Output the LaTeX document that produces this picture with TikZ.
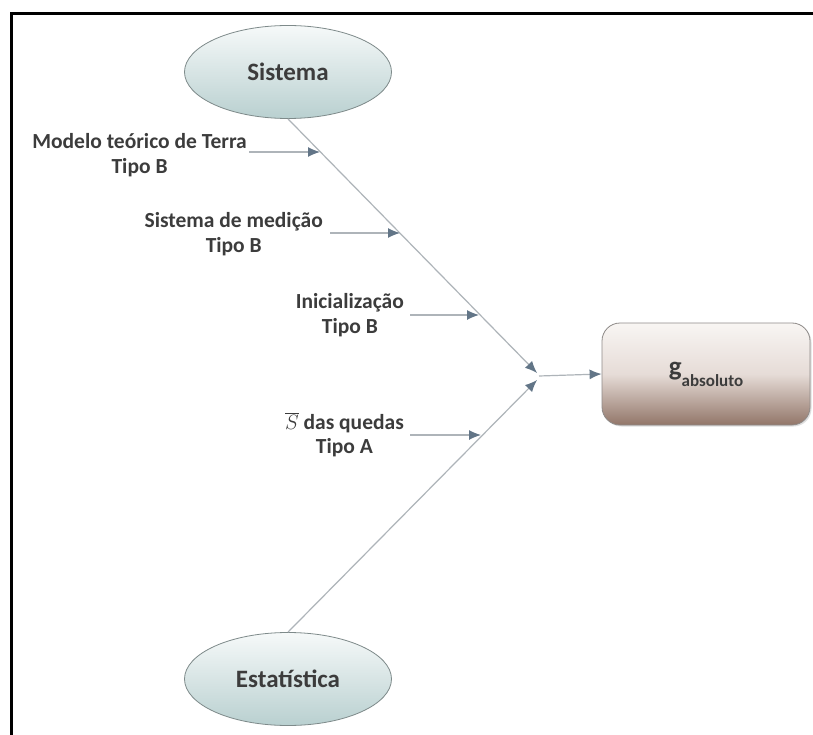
\documentclass[tikz,border=0pt]{standalone}
\usepackage{fontspec}
\setmainfont{Carlito}
\usetikzlibrary{arrows.meta,shapes.geometric,shadows}
\definecolor{txt}{HTML}{3C3C3C}
\definecolor{wire}{HTML}{AEB4B9}
\definecolor{tip}{HTML}{627587}
\definecolor{ovaltop}{HTML}{F6F9F9}
\definecolor{ovalbot}{HTML}{B9D0D0}
\definecolor{ovalrim}{HTML}{7E8A8A}
\definecolor{boxtop}{HTML}{F8F5F3}
\definecolor{boxmid}{HTML}{E6DCD7}
\definecolor{boxbot}{HTML}{927669}
\definecolor{boxrim}{HTML}{8E8A88}
\begin{document}
\begin{tikzpicture}[x=1pt,y=-1pt,
  oval/.style={ellipse, draw=ovalrim, line width=0.8pt, top color=ovaltop, bottom color=ovalbot,
    minimum width=207pt, minimum height=93pt, inner sep=0pt,
    font=\fontsize{25}{28}\selectfont\bfseries, text=txt},
  result/.style={rectangle, rounded corners=18pt, draw=boxrim, line width=0.8pt,
    top color=boxtop, bottom color=boxbot, middle color=boxmid,
    minimum width=208pt, minimum height=102pt, inner sep=0pt, text=txt,
    drop shadow={opacity=0.25, shadow xshift=1.5pt, shadow yshift=-1.5pt}},
  cause/.style={align=center, font=\fontsize{21.5}{24.5}\selectfont\bfseries, text=txt,
    inner sep=0pt, anchor=east},
  feed/.style={draw=wire, line width=1.2pt, -{Latex[length=12pt,width=10pt,color=tip]}},
]
\useasboundingbox (0,0) rectangle (813,735);
\fill[white] (0,0) rectangle (813,735);

% outer frame (top and left edges)
\draw[line width=3pt] (11,735) -- (11,14) -- (813,14);

% the two main sources
\node[oval] (sis) at (288,72) {Sistema};
\node[oval] (est) at (288,679) {Estatística};

% result box
\node[result] (res) at (706,374) {\fontsize{27}{28}\selectfont\bfseries g\raisebox{-11pt}{\fontsize{17}{18}\selectfont absoluto}};

% junction points
\coordinate (j1) at (537,373);
\coordinate (j2) at (537,380);
\coordinate (jc) at (539,376);

\draw[feed] (sis.south) -- (j1);
\draw[feed] (est.north) -- (j2);
\draw[feed] (jc) -- (res.west);

% points where the contributions meet the branches
\coordinate (p1) at (320,152);
\coordinate (p2) at (400,233);
\coordinate (p3) at (479,315);
\coordinate (p4) at (481,435);

\node[cause] (c1) at (247,155) {Modelo teórico de Terra\\Tipo B};
\node[cause] (c2) at (323,234) {Sistema de medição\\Tipo B};
\node[cause] (c3) at (404,315) {Inicialização\\Tipo B};
\node[cause] (c4) at (404,435) {$\overline{S}$ das quedas\\Tipo A};

\draw[feed] (c1.east |- p1) ++(2,0) -- (p1);
\draw[feed] (c2.east |- p2) ++(7,0) -- (p2);
\draw[feed] (c3.east |- p3) ++(6,0) -- (p3);
\draw[feed] (c4.east |- p4) ++(6,0) -- (p4);
\end{tikzpicture}
\end{document}
